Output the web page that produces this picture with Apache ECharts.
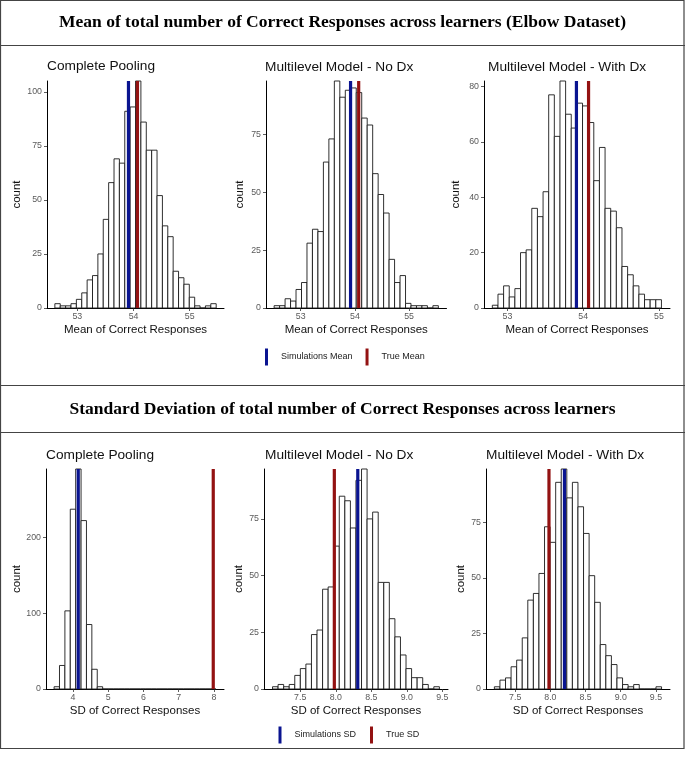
<!DOCTYPE html>
<html><head><meta charset="utf-8">
<script src="https://cdn.jsdelivr.net/npm/echarts@6/dist/echarts.min.js"></script>
<style>html,body{margin:0;padding:0;background:#fff}#c{width:685px;height:761px}</style>
</head><body><div id="c"></div><script>
// ---------- DATA ----------
const headerMean = 'Mean of total number of Correct Responses across learners (Elbow Dataset)';
const headerSD = 'Standard Deviation of total number of Correct Responses across learners';
const panelTitles = ['Complete Pooling', 'Multilevel Model - No Dx', 'Multilevel Model - With Dx'];

const meanXTicks = [53, 54, 55];
const sdCPXTicks = [4, 5, 6, 7, 8];
const sdMLXTicks = [7.5, 8.0, 8.5, 9.0, 9.5];
const yTicks25 = [0, 25, 50, 75, 100];
const yTicks25b = [0, 25, 50, 75];
const yTicks20 = [0, 20, 40, 60, 80];
const yTicks100 = [0, 100, 200];

// histogram bins: first bin edge, bin width, counts
const meanCPStart = 52.60, meanCPWidth = 0.0957;
const meanCPCounts = [2,1,1,2,4,7,13,15,25,41,58,69,67,91,93,105,86,73,73,52,38,33,17,14,11,5,1,0,1,2];
const meanNoDxStart = 52.51, meanNoDxWidth = 0.101;
const meanNoDxCounts = [1,1,4,3,8,11,28,34,33,63,73,98,91,94,95,93,82,79,58,49,41,21,11,14,2,1,1,1,0,1];
const meanWithDxStart = 52.80, meanWithDxWidth = 0.0744;
const meanWithDxCounts = [1,5,8,4,7,20,21,36,33,42,77,62,82,70,65,74,73,67,46,58,36,35,29,15,12,8,5,3,3,3];
const sdCPStart = 3.465, sdCPWidth = 0.153;
const sdCPCounts = [3,31,103,237,290,222,85,26,3,0,0,0,0,0,0,0,0,0,0,0,0,0,0,0,0,0,0,0,0,0];
const sdNoDxStart = 7.11, sdNoDxWidth = 0.0783;
const sdNoDxCounts = [1,2,1,2,6,9,11,24,26,44,45,63,85,83,71,92,97,75,78,47,47,31,23,15,9,5,5,2,0,1];
const sdWithDxStart = 7.204, sdWithDxWidth = 0.0792;
const sdWithDxCounts = [1,4,5,10,13,23,40,43,52,73,66,93,99,86,93,82,70,51,39,20,15,11,5,2,1,2,0,0,0,1];

// reference lines
const simMeans = [53.91, 53.92, 53.91];
const trueMean = 54.07;
const simSDs = [4.15, 8.31, 8.20];
const trueSD = 7.98;

// ---------- LAYOUT ----------
const BLUE = '#0a1490', RED = '#931212';
const panels = [
  {g:[47,81,177,227], xr:[52.46,55.61], xt:meanXTicks, yt:yTicks25, s:meanCPStart, w:meanCPWidth, c:meanCPCounts, sim:simMeans[0], tru:trueMean, sn:'Simulations Mean', tn:'True Mean', t:panelTitles[0], tp:[47,66.5], xn:'Mean of Correct Responses', yg:24, dec:0},
  {g:[266,81,180.5,227], xr:[52.36,55.69], xt:meanXTicks, yt:yTicks25b, s:meanNoDxStart, w:meanNoDxWidth, c:meanNoDxCounts, sim:simMeans[1], tru:trueMean, sn:'Simulations Mean', tn:'True Mean', t:panelTitles[1], tp:[265,67], xn:'Mean of Correct Responses', yg:20, dec:0},
  {g:[484,81,186,227], xr:[52.69,55.145], xt:meanXTicks, yt:yTicks20, s:meanWithDxStart, w:meanWithDxWidth, c:meanWithDxCounts, sim:simMeans[2], tru:trueMean, sn:'Simulations Mean', tn:'True Mean', t:panelTitles[2], tp:[488,67], xn:'Mean of Correct Responses', yg:22, dec:0},
  {g:[46,469,178,220], xr:[3.235,8.285], xt:sdCPXTicks, yt:yTicks100, s:sdCPStart, w:sdCPWidth, c:sdCPCounts, sim:simSDs[0], tru:trueSD, sn:'Simulations SD', tn:'True SD', t:panelTitles[0], tp:[46,455.7], xn:'SD of Correct Responses', yg:22, dec:0},
  {g:[264,469,184,220], xr:[6.99,9.58], xt:sdMLXTicks, yt:yTicks25b, s:sdNoDxStart, w:sdNoDxWidth, c:sdNoDxCounts, sim:simSDs[1], tru:trueSD, sn:'Simulations SD', tn:'True SD', t:panelTitles[1], tp:[265,455.7], xn:'SD of Correct Responses', yg:17, dec:1},
  {g:[486,469,184,220], xr:[7.085,9.70], xt:sdMLXTicks, yt:yTicks25b, s:sdWithDxStart, w:sdWithDxWidth, c:sdWithDxCounts, sim:simSDs[2], tru:trueSD, sn:'Simulations SD', tn:'True SD', t:panelTitles[2], tp:[486,455.7], xn:'SD of Correct Responses', yg:16, dec:1}
];

const FONT = '"Liberation Sans", Arial, sans-serif';
const SERIF = 'bold 17.5px "Liberation Serif", "Times New Roman", serif';
const grids = [], xAxes = [], yAxes = [], series = [], graphics = [];

function histItem(params, api) {
  const p0 = api.coord([api.value(0), api.value(2)]);
  const p1 = api.coord([api.value(1), 0]);
  return {type:'rect', shape:{x:p0[0], y:p0[1], width:p1[0]-p0[0], height:p1[1]-p0[1]},
    style:{fill:'#ffffff', stroke:'#1a1a1a', lineWidth:0.9}};
}
function vlineItem(color) {
  return function(params, api) {
    const cs = params.coordSys;
    const px = api.coord([api.value(0), 0])[0];
    return {type:'line', shape:{x1:px, y1:cs.y, x2:px, y2:cs.y+cs.height},
      style:{stroke:color, lineWidth:3.2}};
  };
}

panels.forEach((p, i) => {
  grids.push({left:p.g[0], top:p.g[1], width:p.g[2], height:p.g[3]});
  const ymax = Math.max(...p.c);
  xAxes.push({gridIndex:i, type:'value', min:p.xr[0], max:p.xr[1],
    name:p.xn, nameLocation:'middle', nameGap:16,
    nameTextStyle:{fontFamily:FONT, fontSize:11.5, color:'#111'},
    axisLine:{onZero:false, lineStyle:{color:'#000', width:1}},
    axisTick:{customValues:p.xt, length:3, lineStyle:{color:'#333', width:0.8}},
    axisLabel:{customValues:p.xt, margin:4, fontFamily:FONT, fontSize:8.8, color:'#5a5a5a',
      formatter:(v)=>Number(v).toFixed(p.dec)},
    splitLine:{show:false}});
  yAxes.push({gridIndex:i, type:'value', min:0, max:ymax,
    name:'count', nameLocation:'middle', nameGap:p.yg, nameRotate:90,
    nameTextStyle:{fontFamily:FONT, fontSize:11.5, color:'#111'},
    axisLine:{onZero:false, lineStyle:{color:'#000', width:1}},
    axisTick:{customValues:p.yt, length:3, lineStyle:{color:'#333', width:0.8}},
    axisLabel:{customValues:p.yt, margin:5, fontFamily:FONT, fontSize:8.8, color:'#5a5a5a'},
    splitLine:{show:false}});
  series.push({type:'custom', name:'hist'+i, xAxisIndex:i, yAxisIndex:i, z:2,
    encode:{x:[0,1], y:2}, renderItem:histItem,
    data:p.c.map((v,k)=>[p.s + k*p.w, p.s + (k+1)*p.w, v])});
  series.push({type:'custom', name:p.sn, xAxisIndex:i, yAxisIndex:i, z:3,
    itemStyle:{color:BLUE}, encode:{x:0, y:1}, renderItem:vlineItem(BLUE), data:[[p.sim, 0]]});
  series.push({type:'custom', name:p.tn, xAxisIndex:i, yAxisIndex:i, z:3,
    itemStyle:{color:RED}, encode:{x:0, y:1}, renderItem:vlineItem(RED), data:[[p.tru, 0]]});
  graphics.push({type:'text', x:p.tp[0], y:p.tp[1],
    style:{text:p.t, font:'13.7px ' + FONT, fill:'#111', align:'left', verticalAlign:'middle'}});
});

// frame and section dividers
graphics.push({type:'rect', shape:{x:0.5, y:0.5, width:683.5, height:748}, style:{fill:'none', stroke:'#444', lineWidth:1.2}});
[45.5, 385.5, 432.5].forEach(y => graphics.push({type:'line', shape:{x1:0, y1:y, x2:685, y2:y}, style:{stroke:'#444', lineWidth:1.2}}));
graphics.push({type:'text', x:342.5, y:22, style:{text:headerMean, font:SERIF, fill:'#000', align:'center', verticalAlign:'middle'}});
graphics.push({type:'text', x:342.5, y:409, style:{text:headerSD, font:SERIF, fill:'#000', align:'center', verticalAlign:'middle'}});

const chart = echarts.init(document.getElementById('c'), null, {renderer:'canvas'});
chart.setOption({
  animation:false,
  backgroundColor:'#fff',
  grid:grids, xAxis:xAxes, yAxis:yAxes, series:series,
  legend:[
    {data:['Simulations Mean','True Mean'], left:265, top:348.5, padding:0, icon:'rect', itemWidth:3, itemHeight:17, itemGap:13,
     selectedMode:false, textStyle:{fontFamily:FONT, fontSize:9, color:'#222', padding:[0,0,0,8]}},
    {data:['Simulations SD','True SD'], left:278.5, top:726.5, padding:0, icon:'rect', itemWidth:3, itemHeight:17, itemGap:14,
     selectedMode:false, textStyle:{fontFamily:FONT, fontSize:9, color:'#222', padding:[0,0,0,8]}}
  ],
  graphic:graphics
});
</script></body></html>
